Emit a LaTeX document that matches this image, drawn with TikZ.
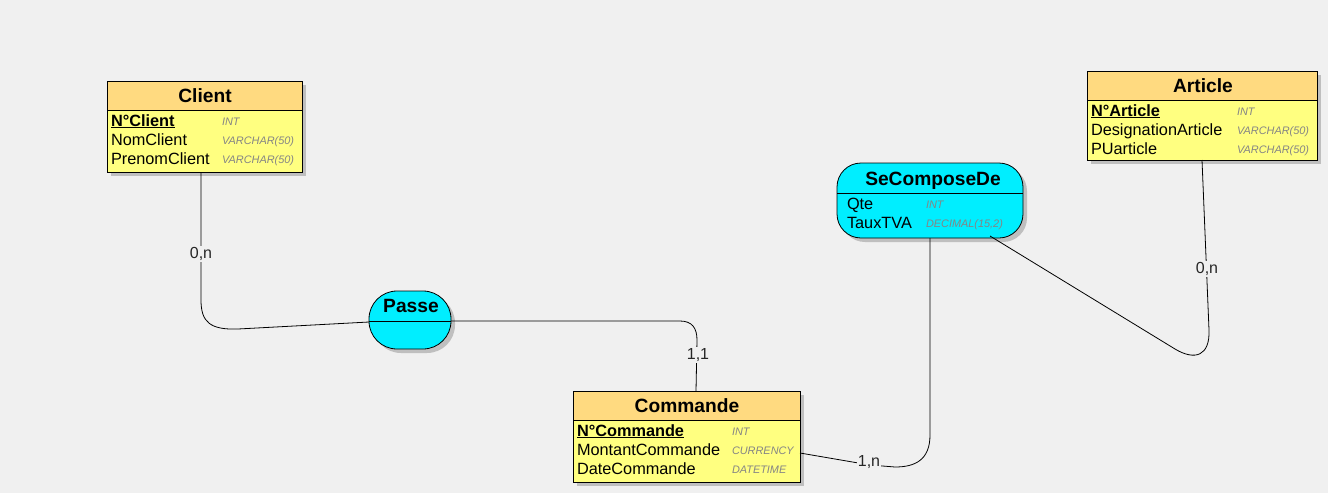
\documentclass[tikz,border=0pt]{standalone}
\usepackage{fontspec}
\setmainfont{Liberation Sans}
\begin{document}
\begin{tikzpicture}[x=1pt,y=-1pt,
  every node/.style={inner sep=0pt,outer sep=0pt},
  box/.style={draw=black,line width=0.8pt},
  shadowc/.style={fill=black!25,draw=none},
  ttl/.style={font=\fontsize{19.2}{21}\selectfont\bfseries,anchor=base,text=black},
  att/.style={font=\fontsize{16.3}{18}\selectfont,anchor=base west,text=black},
  typ/.style={font=\fontsize{10.9}{12}\selectfont\itshape,anchor=base west,text=black!48},
  card/.style={font=\fontsize{16}{18}\selectfont,fill=bgc,inner sep=1pt,text=black!85},
  link/.style={draw=black,line width=0.8pt}]
\definecolor{bgc}{RGB}{240,240,240}
\definecolor{entT}{RGB}{255,218,128}
\definecolor{entB}{RGB}{255,255,128}
\definecolor{asso}{RGB}{0,238,255}
\fill[bgc] (0,0) rectangle (1328,493);
\useasboundingbox (0,0) rectangle (1328,493);

% ---------- Client
\fill[shadowc] (111,85) rectangle (306,176);
\node[box,fill=entB,minimum width=195,minimum height=91] (client) at (204.5,126.5) {};
\fill[entT] (107,81) rectangle (302,110);
\draw[line width=0.8pt] (107,110) -- (302,110);
\draw[box] (107,81) rectangle (302,172);
\node[ttl] (clientT) at (205,102) {Client};
\node[att] (c1) at (111,126) {\underline{\textbf{N°Client}}};
\node[att] (c2) at (111,145) {NomClient};
\node[att] (c3) at (111,164) {PrenomClient};
\node[typ] (ct1) at (222,125) {INT};
\node[typ] (ct2) at (222,144) {VARCHAR(50)};
\node[typ] (ct3) at (222,163) {VARCHAR(50)};

% ---------- Article
\fill[shadowc] (1091,75) rectangle (1321,164);
\node[box,fill=entB,minimum width=230,minimum height=89] (article) at (1202,115.5) {};
\fill[entT] (1087,71) rectangle (1317,100);
\draw[line width=0.8pt] (1087,100) -- (1317,100);
\draw[box] (1087,71) rectangle (1317,160);
\node[ttl] (articleT) at (1203,92) {Article};
\node[att] (a1) at (1091,116) {\underline{\textbf{N°Article}}};
\node[att] (a2) at (1091,135) {DesignationArticle};
\node[att] (a3) at (1091,154) {PUarticle};
\node[typ] (at1) at (1237,115) {INT};
\node[typ] (at2) at (1237,134) {VARCHAR(50)};
\node[typ] (at3) at (1237,153) {VARCHAR(50)};

% ---------- Commande
\fill[shadowc] (577,395) rectangle (804,486);
\node[box,fill=entB,minimum width=227,minimum height=91] (commande) at (686.5,436.5) {};
\fill[entT] (573,391) rectangle (800,420);
\draw[line width=0.8pt] (573,420) -- (800,420);
\draw[box] (573,391) rectangle (800,482);
\node[ttl] (commandeT) at (687,412) {Commande};
\node[att] (m1) at (577,436) {\underline{\textbf{N°Commande}}};
\node[att] (m2) at (577,455) {MontantCommande};
\node[att] (m3) at (577,474) {DateCommande};
\node[typ] (mt1) at (732,435) {INT};
\node[typ] (mt2) at (732,454) {CURRENCY};
\node[typ] (mt3) at (732,473) {DATETIME};

% ---------- SeComposeDe
\fill[shadowc,rounded corners=24pt] (841,167) rectangle (1027,242);
\fill[asso,rounded corners=24pt] (837,163) rectangle (1023,238);
\draw[line width=0.8pt] (837,193) -- (1023,193);
\draw[box,rounded corners=24pt] (837,163) rectangle (1023,238);
\node[minimum width=186,minimum height=75] (secompose) at (930,200.5) {};
\node[ttl] (secomposeT) at (933,185) {SeComposeDe};
\node[att] (s1) at (847,209) {Qte};
\node[att] (s2) at (847,228) {TauxTVA};
\node[typ] (st1) at (926,208) {INT};
\node[typ] (st2) at (926,227) {DECIMAL(15,2)};

% ---------- Passe
\fill[shadowc,rounded corners=28pt] (373,295) rectangle (455,353);
\fill[asso,rounded corners=28pt] (369,291) rectangle (451,349);
\draw[line width=0.8pt] (369,321) -- (451,321);
\draw[box,rounded corners=28pt] (369,291) rectangle (451,349);
\node[minimum width=82,minimum height=58] (passe) at (410,320) {};
\node[ttl] (passeT) at (411,312) {Passe};

% ---------- connectors
\coordinate (cS) at (201,172);
\coordinate (pW) at (369,322);
\coordinate (pE) at (451,321);
\coordinate (mN) at (696,391);
\coordinate (mE) at (800,453);
\coordinate (sS) at (930,238);
\coordinate (sSE) at (990,236);
\coordinate (aS) at (1202,160);

\draw[link] (cS) -- (201,300) .. controls (201,322) and (210,330) .. (238,329) -- (pW);
\draw[link] (pE) -- (680,321) .. controls (692,321) and (697,328) .. (697,340) -- (mN);
\draw[link] (sS) -- (930,435) .. controls (930,460) and (915,467) .. (895,467) -- (870,465) -- (mE);
\draw[link] (sSE) -- (1175,349) .. controls (1195,361) and (1210,356) .. (1209,330) -- (aS);

\node[card] (l1) at (201,254) {0,n};
\node[card] (l2) at (698,355) {1,1};
\node[card] (l3) at (869,462) {1,n};
\node[card] (l4) at (1207,269) {0,n};
\end{tikzpicture}
\end{document}
